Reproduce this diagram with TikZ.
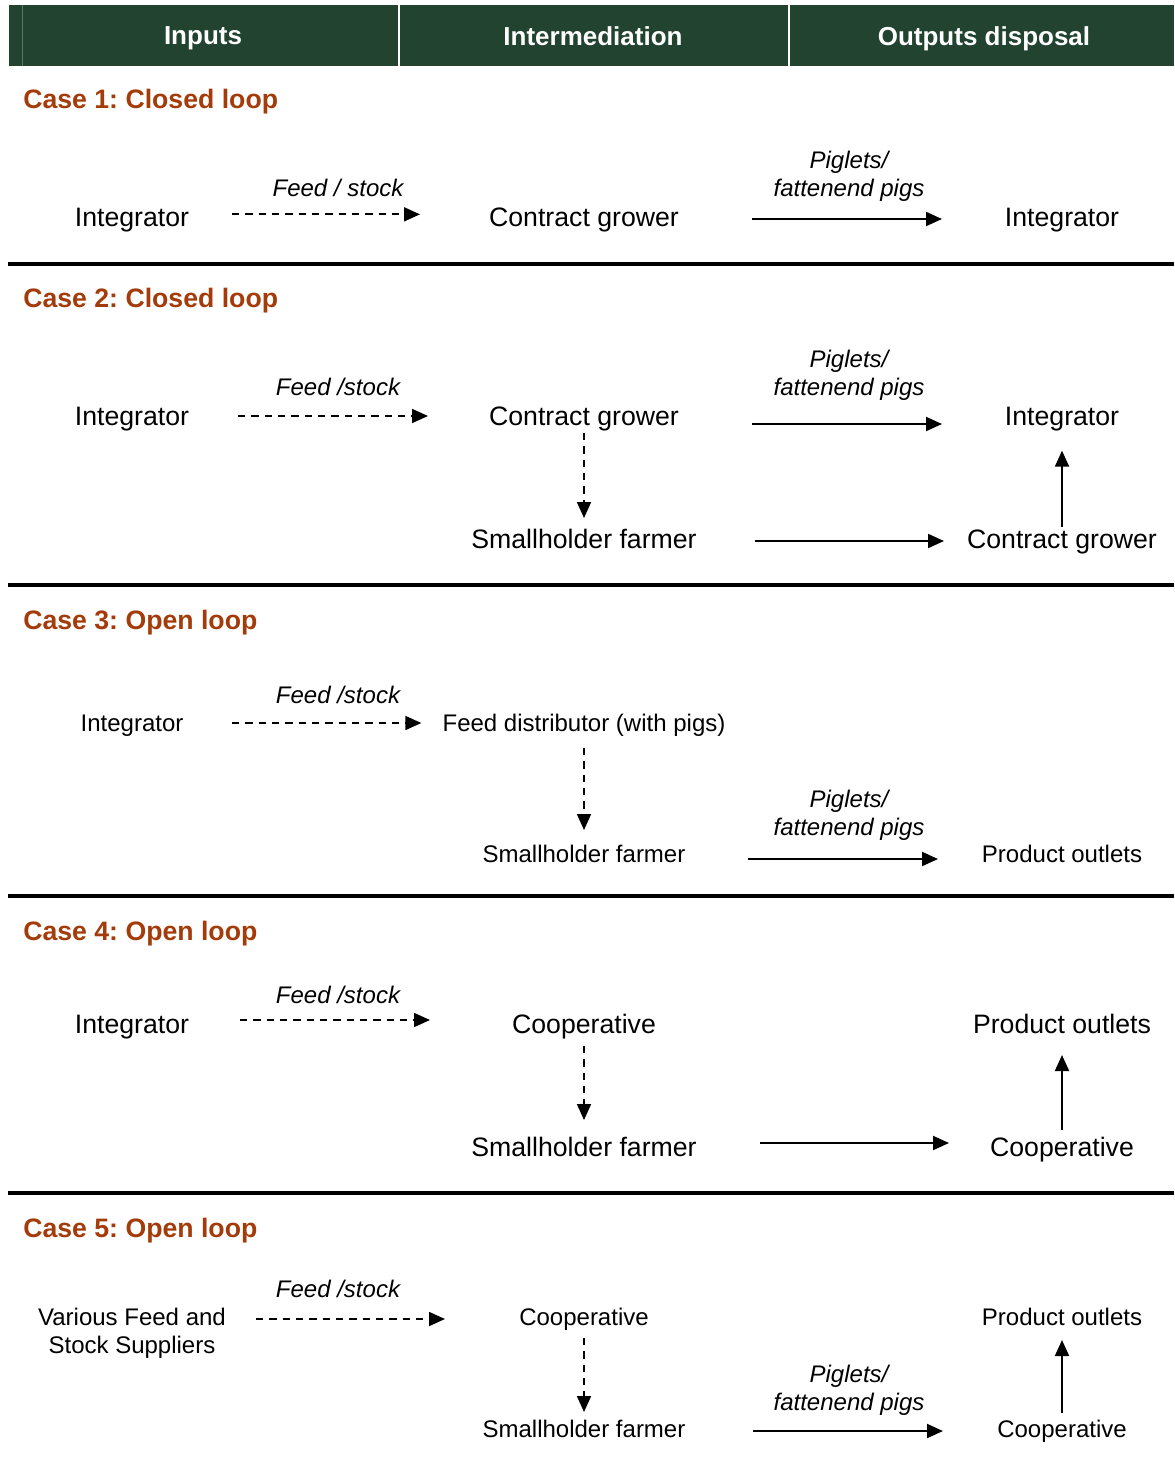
\documentclass[tikz,border=0pt]{standalone}
\usepackage{fontspec}
\setmainfont{Liberation Sans}
\frenchspacing
\definecolor{headgreen}{RGB}{33,67,48}
\definecolor{headline}{RGB}{90,120,100}
\definecolor{casebrown}{RGB}{163,60,10}
\usetikzlibrary{arrows.meta}
\tikzset{
	actor/.style={font=\fontsize{20}{23}\selectfont, inner sep=0pt, text depth=0pt, align=center},
	actorsm/.style={font=\fontsize{18}{21}\selectfont, inner sep=0pt, text depth=0pt, align=center},
	flowlbl/.style={font=\itshape\fontsize{18}{21}\selectfont, inner sep=0pt, text depth=0pt, align=center},
	casetitle/.style={font=\bfseries\fontsize{20}{23}\selectfont, text=casebrown, anchor=west, inner sep=0pt, text depth=0pt},
	headtxt/.style={font=\bfseries\fontsize{19.5}{22}\selectfont, text=white, inner sep=0pt, text depth=0pt},
	feed/.style={line width=1.3pt, dash pattern=on 5.5pt off 4.5pt, -{Triangle[length=12pt,width=10.5pt]}},
	pigs/.style={line width=1.5pt, -{Triangle[length=12pt,width=10.5pt]}},
	sep/.style={line width=3pt}
}
\begin{document}
\begin{tikzpicture}[x=0.75pt, y=-0.75pt]
	\useasboundingbox (0,0) rectangle (1174,1470);
	% cabecera
	\fill[headgreen] (9,5) rectangle (1174,66);
	\draw[headline, line width=0.6pt] (22,5) -- (22,66);
	\fill[white] (398,5) rectangle (400,66);
	\fill[white] (788,5) rectangle (790,66);
	\node[headtxt] (hin) at (203,36) {Inputs};
	\node[headtxt] (hmid) at (593,36) {Intermediation};
	\node[headtxt] (hout) at (984,36) {Outputs disposal};
	% separadores
	\foreach \y in {264,585,896,1193}
		\draw[sep] (8,\y) -- (1174,\y);
	% caso 1
	\node[casetitle] (t1) at (23,99) {Case 1: Closed loop};
	\node[actor] (int1) at (132,217) {Integrator};
	\node[actor] (cg1) at (584,217) {Contract grower};
	\node[actor] (int1b) at (1062,217) {Integrator};
	\node[flowlbl] (f1) at (338,188) {Feed / stock};
	\node[flowlbl] (p1) at (849,174) {Piglets/\\fattenend pigs};
	\draw[feed, shorten <=75pt, shorten >=123pt] ([yshift=2pt]int1.center) -- ([yshift=2pt]cg1.center);
	\draw[pigs, shorten <=126pt, shorten >=90pt] ([yshift=-1.5pt]cg1.center) -- ([yshift=-1.5pt]int1b.center);
	% caso 2
	\node[casetitle] (t2) at (23,298) {Case 2: Closed loop};
	\node[actor] (int2) at (132,416) {Integrator};
	\node[actor] (cg2) at (584,416) {Contract grower};
	\node[actor] (int2b) at (1062,416) {Integrator};
	\node[actor] (sh2) at (584,539) {Smallholder farmer};
	\node[actor] (cg2b) at (1062,539) {Contract grower};
	\node[flowlbl] (f2) at (338,387) {Feed /stock};
	\node[flowlbl] (p2) at (849,373) {Piglets/\\fattenend pigs};
	\draw[feed, shorten <=79.5pt, shorten >=117pt] (int2.center) -- (cg2.center);
	\draw[feed, shorten <=12.75pt, shorten >=15.75pt] (cg2.center) -- (sh2.center);
	\draw[pigs, shorten <=126pt, shorten >=90pt] ([yshift=-6pt]cg2.center) -- ([yshift=-6pt]int2b.center);
	\draw[pigs, shorten <=128pt, shorten >=88.5pt] ([yshift=-1.5pt]sh2.center) -- ([yshift=-1.5pt]cg2b.center);
	\draw[pigs, shorten <=9pt, shorten >=26pt] (cg2b.center) -- (int2b.center);
	% caso 3
	\node[casetitle] (t3) at (23,620) {Case 3: Open loop};
	\node[actorsm] (int3) at (132,723) {Integrator};
	\node[actorsm] (fd3) at (584,723) {Feed distributor (with pigs)};
	\node[actorsm] (sh3) at (584,854) {Smallholder farmer};
	\node[actorsm] (po3) at (1062,854) {Product outlets};
	\node[flowlbl] (f3) at (338,695) {Feed /stock};
	\node[flowlbl] (p3) at (849,813) {Piglets/\\fattenend pigs};
	\draw[feed, shorten <=75pt, shorten >=122pt] (int3.center) -- (fd3.center);
	\draw[feed, shorten <=18.75pt, shorten >=18pt] (fd3.center) -- (sh3.center);
	\draw[pigs, shorten <=123pt, shorten >=93pt] ([yshift=-3.75pt]sh3.center) -- ([yshift=-3.75pt]po3.center);
	% caso 4
	\node[casetitle] (t4) at (23,931) {Case 4: Open loop};
	\node[actor] (int4) at (132,1024) {Integrator};
	\node[actor] (co4) at (584,1024) {Cooperative};
	\node[actor] (po4) at (1062,1024) {Product outlets};
	\node[actor] (sh4) at (584,1147) {Smallholder farmer};
	\node[actor] (co4b) at (1062,1147) {Cooperative};
	\node[flowlbl] (f4) at (338,995) {Feed /stock};
	\draw[feed, shorten <=81pt, shorten >=115.5pt] ([yshift=3pt]int4.center) -- ([yshift=3pt]co4.center);
	\draw[feed, shorten <=16.5pt, shorten >=20.25pt] (co4.center) -- (sh4.center);
	\draw[pigs, shorten <=132pt, shorten >=84.75pt] ([yshift=3pt]sh4.center) -- ([yshift=3pt]co4b.center);
	\draw[pigs, shorten <=12.75pt, shorten >=23.25pt] (co4b.center) -- (po4.center);
	% caso 5
	\node[casetitle] (t5) at (23,1228) {Case 5: Open loop};
	\node[actorsm] (sup5) at (132,1331) {Various Feed and\\Stock Suppliers};
	\node[actorsm] (co5) at (584,1317) {Cooperative};
	\node[actorsm] (po5) at (1062,1317) {Product outlets};
	\node[actorsm] (sh5) at (584,1429) {Smallholder farmer};
	\node[actorsm] (co5b) at (1062,1429) {Cooperative};
	\node[flowlbl] (f5) at (338,1289) {Feed /stock};
	\node[flowlbl] (p5) at (849,1388) {Piglets/\\fattenend pigs};
	\draw[feed, shorten <=93pt, shorten >=104.25pt] ([yshift=-1.5pt]sup5.center |- co5.center) -- ([yshift=-1.5pt]co5.center);
	\draw[feed, shorten <=15.75pt, shorten >=12.75pt] (co5.center) -- (sh5.center);
	\draw[pigs, shorten <=126.75pt, shorten >=89.25pt] ([yshift=-1.5pt]sh5.center) -- ([yshift=-1.5pt]co5b.center);
	\draw[pigs, shorten <=12pt, shorten >=17.25pt] (co5b.center) -- (po5.center);
\end{tikzpicture}
\end{document}
